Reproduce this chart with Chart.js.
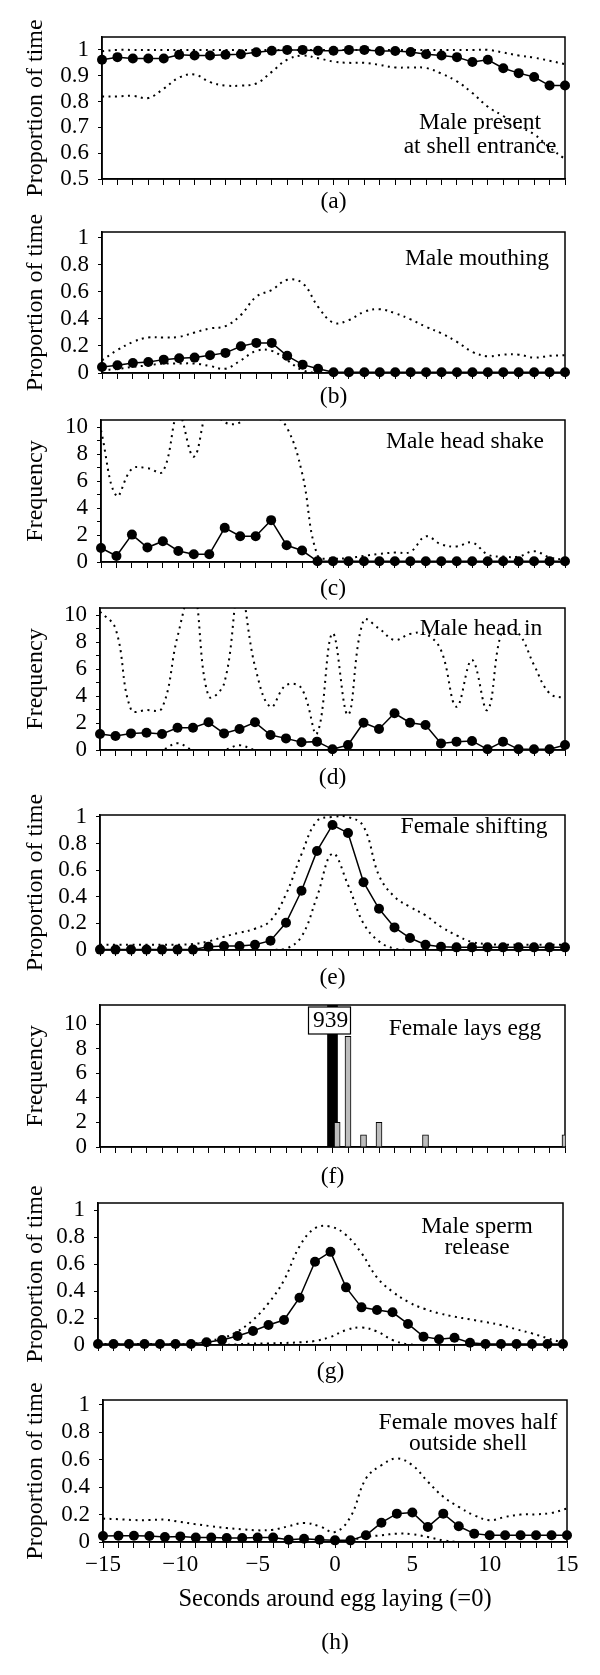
<!DOCTYPE html>
<html>
<head>
<meta charset="utf-8">
<title>Behaviour around egg laying</title>
<script src="https://cdn.jsdelivr.net/npm/chart.js@4.4.1/dist/chart.umd.min.js"></script>
<style>
  html, body { margin: 0; padding: 0; background: #fff; }
  #figure { position: relative; width: 600px; height: 1675px; overflow: hidden; background: #fff; }
  #figure canvas { position: absolute; left: 0; }
</style>
</head>
<body>
<div id="figure"></div>
<script>
// seconds around egg laying (=0)
const seconds = [-15, -14, -13, -12, -11, -10, -9, -8, -7, -6, -5, -4, -3, -2, -1, 0, 1, 2, 3, 4, 5, 6, 7, 8, 9, 10, 11, 12, 13, 14, 15];
const secondLabels = [-15, -10, -5, 0, 5, 10, 15];

// y tick values
const presentTicks = [0.5, 0.6, 0.7, 0.8, 0.9, 1];
const propTicks = [0, 0.2, 0.4, 0.6, 0.8, 1];
const freqTicks = [0, 1, 2, 3, 4, 5, 6, 7, 8, 9, 10];
const freqLabelled = [0, 2, 4, 6, 8, 10];
const layTicks = [0, 2, 4, 6, 8, 10];

// (a) male present at shell entrance
const presentMean = [0.962, 0.972, 0.967, 0.967, 0.967, 0.981, 0.978, 0.978, 0.981, 0.983, 0.991, 0.997, 1.0, 1.0, 0.997, 0.997, 1.0, 1.0, 0.996, 0.996, 0.992, 0.983, 0.978, 0.972, 0.953, 0.962, 0.929, 0.91, 0.895, 0.862, 0.862];
const presentUpper = [0.995, 1, 1, 1, 1, 1, 1, 1, 1, 1, 1, 1, 1, 1, 1, 1, 1, 1, 1, 1, 1, 1, 1, 1, 1, 1, 0.99, 0.978, 0.97, 0.958, 0.945];
const presentLower = [0.82, 0.82, 0.822, 0.814, 0.85, 0.893, 0.905, 0.875, 0.862, 0.862, 0.87, 0.915, 0.962, 0.978, 0.968, 0.955, 0.95, 0.95, 0.942, 0.932, 0.932, 0.93, 0.908, 0.878, 0.833, 0.78, 0.744, 0.705, 0.673, 0.622, 0.577];

// (b) male mouthing
const mouthMean = [0.045, 0.057, 0.074, 0.082, 0.099, 0.109, 0.114, 0.131, 0.149, 0.198, 0.223, 0.223, 0.127, 0.062, 0.032, 0.005, 0.005, 0.005, 0.005, 0.005, 0.005, 0.005, 0.005, 0.005, 0.005, 0.005, 0.005, 0.005, 0.005, 0.005, 0.005];
const mouthUpper = [0.094, 0.17, 0.23, 0.263, 0.263, 0.268, 0.3, 0.33, 0.347, 0.43, 0.566, 0.615, 0.69, 0.665, 0.49, 0.372, 0.392, 0.454, 0.472, 0.442, 0.397, 0.342, 0.293, 0.231, 0.156, 0.124, 0.136, 0.136, 0.114, 0.127, 0.132];
const mouthLower = [0.02, 0.03, 0.045, 0.057, 0.07, 0.07, 0.07, 0.052, 0.032, 0.094, 0.164, 0.164, 0.094, 0.02, 0, 0, 0, 0, 0, 0, 0, 0, 0, 0, 0, 0, 0, 0, 0, 0, 0];

// (c) male head shake
const shakeMean = [1.04, 0.45, 2.03, 1.07, 1.54, 0.82, 0.57, 0.57, 2.53, 1.91, 1.91, 3.1, 1.24, 0.85, 0.05, 0.05, 0.05, 0.05, 0.05, 0.05, 0.05, 0.05, 0.05, 0.05, 0.05, 0.05, 0.05, 0.05, 0.05, 0.05, 0.05];
const shakeUpper = [9.75, 4.9, 6.9, 6.95, 6.7, 11, 7.8, 11.5, 10.35, 10.35, 11.5, 11, 10, 6.6, 0.5, 0.25, 0.3, 0.45, 0.6, 0.7, 0.75, 1.9, 1.3, 1.15, 1.45, 0.55, 0.4, 0.4, 0.8, 0.35, 0.15];
const shakeLower = [0, 0, 0, 0, 0, 0, 0, 0, 0, 0, 0, 0, 0, 0, 0, 0, 0, 0, 0, 0, 0, 0, 0, 0, 0, 0, 0, 0, 0, 0, 0];

// (d) male head in
const headInMean = [1.19, 1.04, 1.23, 1.28, 1.19, 1.65, 1.65, 2.05, 1.23, 1.56, 2.05, 1.11, 0.86, 0.57, 0.62, 0.05, 0.37, 2.02, 1.56, 2.72, 2.02, 1.85, 0.49, 0.62, 0.67, 0.05, 0.62, 0.05, 0.05, 0.05, 0.37];
const headInUpper = [10.25, 9.0, 3.0, 2.96, 3.1, 8.4, 12, 4.0, 4.9, 12, 6.2, 3.2, 4.8, 4.57, 1.23, 8.64, 2.6, 9.6, 9.0, 8.15, 8.6, 8.6, 7.4, 3.2, 6.67, 2.96, 9.0, 8.64, 6.3, 4.2, 3.83];
const headInLower = [0, 0, 0, 0, 0, 0.5, 0, 0, 0, 0.35, 0, 0, 0, 0, 0, 0, 0, 0, 0, 0, 0, 0, 0, 0, 0, 0, 0, 0, 0, 0, 0];

// (e) female shifting
const shiftMean = [0.003, 0.003, 0.003, 0.003, 0.003, 0.003, 0.003, 0.025, 0.03, 0.03, 0.04, 0.07, 0.205, 0.445, 0.745, 0.94, 0.88, 0.51, 0.31, 0.17, 0.09, 0.04, 0.025, 0.02, 0.02, 0.02, 0.02, 0.02, 0.02, 0.02, 0.02];
const shiftUpper = [0.04, 0.04, 0.04, 0.04, 0.04, 0.04, 0.045, 0.065, 0.1, 0.13, 0.16, 0.22, 0.42, 0.72, 0.97, 1.0, 1.0, 0.93, 0.56, 0.4, 0.325, 0.26, 0.175, 0.11, 0.06, 0.045, 0.04, 0.04, 0.04, 0.04, 0.04];
const shiftLower = [0, 0, 0, 0, 0, 0, 0, 0, 0, 0, 0, 0, 0.01, 0.1, 0.4, 0.725, 0.49, 0.2, 0.065, 0.01, 0, 0, 0, 0, 0, 0, 0, 0, 0, 0, 0];

// (f) female lays egg: egg count at 0 and later egg counts
const eggTimes = [0];
const eggCounts = [939];
const layTimes = [0.3, 1, 2, 3, 6, 15];
const layCounts = [2, 9, 1, 2, 1, 1];

// (g) male sperm release
const spermMean = [0.007, 0.007, 0.007, 0.007, 0.007, 0.007, 0.007, 0.02, 0.037, 0.067, 0.104, 0.148, 0.185, 0.35, 0.617, 0.69, 0.427, 0.279, 0.259, 0.242, 0.156, 0.062, 0.042, 0.054, 0.017, 0.007, 0.007, 0.007, 0.007, 0.007, 0.007];
const spermUpper = [0.007, 0.007, 0.007, 0.007, 0.007, 0.007, 0.007, 0.03, 0.05, 0.1, 0.185, 0.31, 0.48, 0.73, 0.865, 0.877, 0.815, 0.68, 0.5, 0.395, 0.32, 0.27, 0.235, 0.21, 0.19, 0.17, 0.148, 0.116, 0.086, 0.05, 0.017];
const spermLower = [0, 0, 0, 0, 0, 0, 0, 0, 0, 0.005, 0.01, 0.012, 0.015, 0.02, 0.03, 0.06, 0.11, 0.13, 0.1, 0.037, 0.005, 0, 0, 0, 0, 0, 0, 0, 0, 0, 0];

// (h) female moves half outside shell
const halfMean = [0.044, 0.046, 0.046, 0.044, 0.037, 0.041, 0.032, 0.032, 0.029, 0.029, 0.032, 0.032, 0.017, 0.024, 0.017, 0.012, 0.012, 0.049, 0.141, 0.207, 0.215, 0.11, 0.207, 0.115, 0.061, 0.049, 0.049, 0.049, 0.049, 0.049, 0.049];
const halfUpper = [0.171, 0.166, 0.16, 0.16, 0.163, 0.146, 0.13, 0.115, 0.102, 0.093, 0.085, 0.09, 0.115, 0.139, 0.115, 0.073, 0.183, 0.463, 0.56, 0.61, 0.56, 0.44, 0.33, 0.256, 0.195, 0.159, 0.183, 0.2, 0.202, 0.212, 0.244];
const halfLower = [0, 0, 0, 0, 0, 0, 0, 0, 0, 0, 0, 0, 0, 0, 0, 0, 0.012, 0.037, 0.049, 0.061, 0.056, 0.037, 0.012, 0, 0, 0, 0, 0, 0, 0, 0];

const FONT = '"Liberation Serif", "Times New Roman", serif';
const TICK_SIZE = 23;
const NOTE_SIZE = 23.5;
Chart.defaults.font.family = FONT;
Chart.defaults.font.size = TICK_SIZE;
Chart.defaults.color = '#000';

const fmt = v => String(v).replace('-', '\u2212');

// panel layout (pixels) and texts
const panels = [
  { tag: '(a)', top: 37, bottom: 179, left: 102, right: 565, min: 0.5, max: 1.05, ticks: presentTicks, labelled: presentTicks,
    title: 'Proportion of time', series: [presentMean, presentUpper, presentLower],
    notes: ['Male present', 'at shell entrance'], noteDx: 85, noteDy: [86, 110], tagDy: 23 },
  { tag: '(b)', top: 232, bottom: 373, left: 102, right: 565, min: 0, max: 1.044, ticks: propTicks, labelled: propTicks,
    title: 'Proportion of time', series: [mouthMean, mouthUpper, mouthLower],
    notes: ['Male mouthing'], noteDx: 88, noteDy: [27], tagDy: 24 },
  { tag: '(c)', top: 420, bottom: 562, left: 101, right: 565, min: 0, max: 10.52, ticks: freqTicks, labelled: freqLabelled,
    title: 'Frequency', series: [shakeMean, shakeUpper, shakeLower],
    notes: ['Male head shake'], noteDx: 100, noteDy: [22], tagDy: 27 },
  { tag: '(d)', top: 608, bottom: 750, left: 100, right: 565, min: 0, max: 10.52, ticks: freqTicks, labelled: freqLabelled,
    title: 'Frequency', series: [headInMean, headInUpper, headInLower],
    notes: ['Male head in'], noteDx: 84, noteDy: [21], tagDy: 28 },
  { tag: '(e)', top: 815, bottom: 950, left: 100, right: 565, min: 0, max: 1.015, ticks: propTicks, labelled: propTicks,
    title: 'Proportion of time', series: [shiftMean, shiftUpper, shiftLower],
    notes: ['Female shifting'], noteDx: 91, noteDy: [12], tagDy: 28 },
  { tag: '(f)', top: 1005, bottom: 1147, left: 100, right: 565, min: 0, max: 11.55, ticks: layTicks, labelled: layTicks,
    title: 'Frequency', bars: true, boxText: String(eggCounts[0]),
    notes: ['Female lays egg'], noteDx: 100, noteDy: [24], tagDy: 30 },
  { tag: '(g)', top: 1203, bottom: 1345, left: 98, right: 563, min: 0, max: 1.052, ticks: propTicks, labelled: propTicks,
    title: 'Proportion of time', series: [spermMean, spermUpper, spermLower],
    notes: ['Male sperm', 'release'], noteDx: 86, noteDy: [24, 45], tagDy: 27 },
  { tag: '(h)', top: 1400, bottom: 1542, left: 103, right: 567, min: 0, max: 1.036, ticks: propTicks, labelled: propTicks,
    title: 'Proportion of time', series: [halfMean, halfUpper, halfLower],
    notes: ['Female moves half', 'outside shell'], noteDx: 99, noteDy: [23, 44], tagDy: 101,
    xTitle: 'Seconds around egg laying (=0)' }
];

// box round the plot, the 939 label, notes and panel letters
const frame = {
  id: 'frame',
  beforeDatasetsDraw(chart) {
    const { ctx, chartArea: a } = chart;
    ctx.save();
    ctx.strokeStyle = '#000';
    ctx.lineWidth = 1.5;
    ctx.strokeRect(a.left, a.top, a.right - a.left, a.bottom - a.top);
    ctx.restore();
  },
  afterDatasetsDraw(chart, args, opts) {
    if (!opts.boxText) return;
    const { ctx, chartArea: a } = chart;
    const x0 = chart.scales.x.getPixelForValue(eggTimes[0]);
    ctx.save();
    ctx.fillStyle = '#fff';
    ctx.strokeStyle = '#000';
    ctx.lineWidth = 1.2;
    ctx.fillRect(x0 - 24, a.top + 2, 42, 27);
    ctx.strokeRect(x0 - 24, a.top + 2, 42, 27);
    ctx.fillStyle = '#000';
    ctx.font = NOTE_SIZE + 'px ' + FONT;
    ctx.textAlign = 'center';
    ctx.textBaseline = 'middle';
    ctx.fillText(opts.boxText, x0 - 2, a.top + 16);
    ctx.restore();
  },
  afterDraw(chart, args, opts) {
    const { ctx, chartArea: a } = chart;
    ctx.save();
    ctx.fillStyle = '#000';
    ctx.font = NOTE_SIZE + 'px ' + FONT;
    ctx.textAlign = 'center';
    ctx.textBaseline = 'middle';
    opts.notes.forEach((line, i) => ctx.fillText(line, a.right - opts.noteDx, a.top + opts.noteDy[i]));
    ctx.fillText(opts.tag, (a.left + a.right) / 2, a.bottom + opts.tagDy);
    ctx.restore();
  }
};

const dotted = { borderColor: '#000', borderWidth: 2, borderDash: [2, 4.5], pointRadius: 0, tension: 0.4, clip: 0, fill: false };

function lineSets(mean, upper, lower) {
  const pts = arr => arr.map((v, i) => ({ x: seconds[i], y: v }));
  return [
    { data: pts(mean), borderColor: '#000', borderWidth: 1.5, pointRadius: 5, pointBackgroundColor: '#000',
      pointBorderColor: '#000', pointBorderWidth: 0, tension: 0, clip: false },
    { ...dotted, data: pts(upper) },
    { ...dotted, data: pts(lower) }
  ];
}

function barSets() {
  return [
    { data: layTimes.map((t, i) => ({ x: t, y: layCounts[i] })), backgroundColor: '#bdbdbd', borderColor: '#000',
      borderWidth: 1, barThickness: 6, grouped: false, clip: 0 },
    { data: eggTimes.map((t, i) => ({ x: t, y: eggCounts[i] })), backgroundColor: '#000', borderColor: '#000',
      borderWidth: 0, barThickness: 10, grouped: false, clip: 0 }
  ];
}

const PAD_TOP = 30;
const fig = document.getElementById('figure');

panels.forEach(p => {
  const below = p.xTitle ? 115 : 60;
  const height = PAD_TOP + (p.bottom - p.top) + below;
  const canvas = document.createElement('canvas');
  canvas.width = 600;
  canvas.height = height;
  canvas.style.width = '600px';
  canvas.style.height = height + 'px';
  canvas.style.top = (p.top - PAD_TOP) + 'px';
  fig.appendChild(canvas);

  new Chart(canvas, {
    type: p.bars ? 'bar' : 'line',
    data: { datasets: p.bars ? barSets() : lineSets(...p.series) },
    options: {
      responsive: false,
      animation: false,
      devicePixelRatio: 1,
      events: [],
      layout: { padding: { top: PAD_TOP, right: 600 - p.right, left: 0, bottom: 0 } },
      plugins: {
        legend: { display: false },
        tooltip: { enabled: false },
        frame: { notes: p.notes, noteDx: p.noteDx, noteDy: p.noteDy, tag: p.tag, tagDy: p.tagDy, boxText: p.boxText || '' }
      },
      scales: {
        x: {
          type: 'linear', min: -15, max: 15, offset: false,
          afterBuildTicks: s => { s.ticks = seconds.map(v => ({ value: v })); },
          afterFit: s => { s.height = below; s.paddingLeft = 0; s.paddingRight = 0; },
          grid: { offset: false, drawOnChartArea: false, drawTicks: true, tickLength: 6, tickWidth: 1, color: '#000' },
          border: { display: true, color: '#000', width: 1.5 },
          ticks: { autoSkip: false, maxRotation: 0, padding: 3, font: { size: TICK_SIZE },
            callback: v => (p.xTitle && secondLabels.includes(v)) ? fmt(v) : '' },
          title: { display: !!p.xTitle, text: p.xTitle || '', font: { size: 24.5 }, padding: { top: 0, bottom: 43 } }
        },
        y: {
          min: p.min, max: p.max,
          afterBuildTicks: s => { s.ticks = p.ticks.map(v => ({ value: v })); },
          afterFit: s => { s.width = p.left; s.paddingTop = 0; s.paddingBottom = 0; },
          grid: { drawOnChartArea: false, drawTicks: true, tickLength: 4, tickWidth: 1, color: '#000' },
          border: { display: true, color: '#000', width: 1.5 },
          ticks: { autoSkip: false, padding: 9, font: { size: TICK_SIZE }, callback: v => p.labelled.includes(v) ? fmt(v) : '' },
          title: { display: true, text: p.title, font: { size: 24 }, padding: { top: 21, bottom: 0 } }
        }
      }
    },
    plugins: [frame]
  });
});
</script>
</body>
</html>
